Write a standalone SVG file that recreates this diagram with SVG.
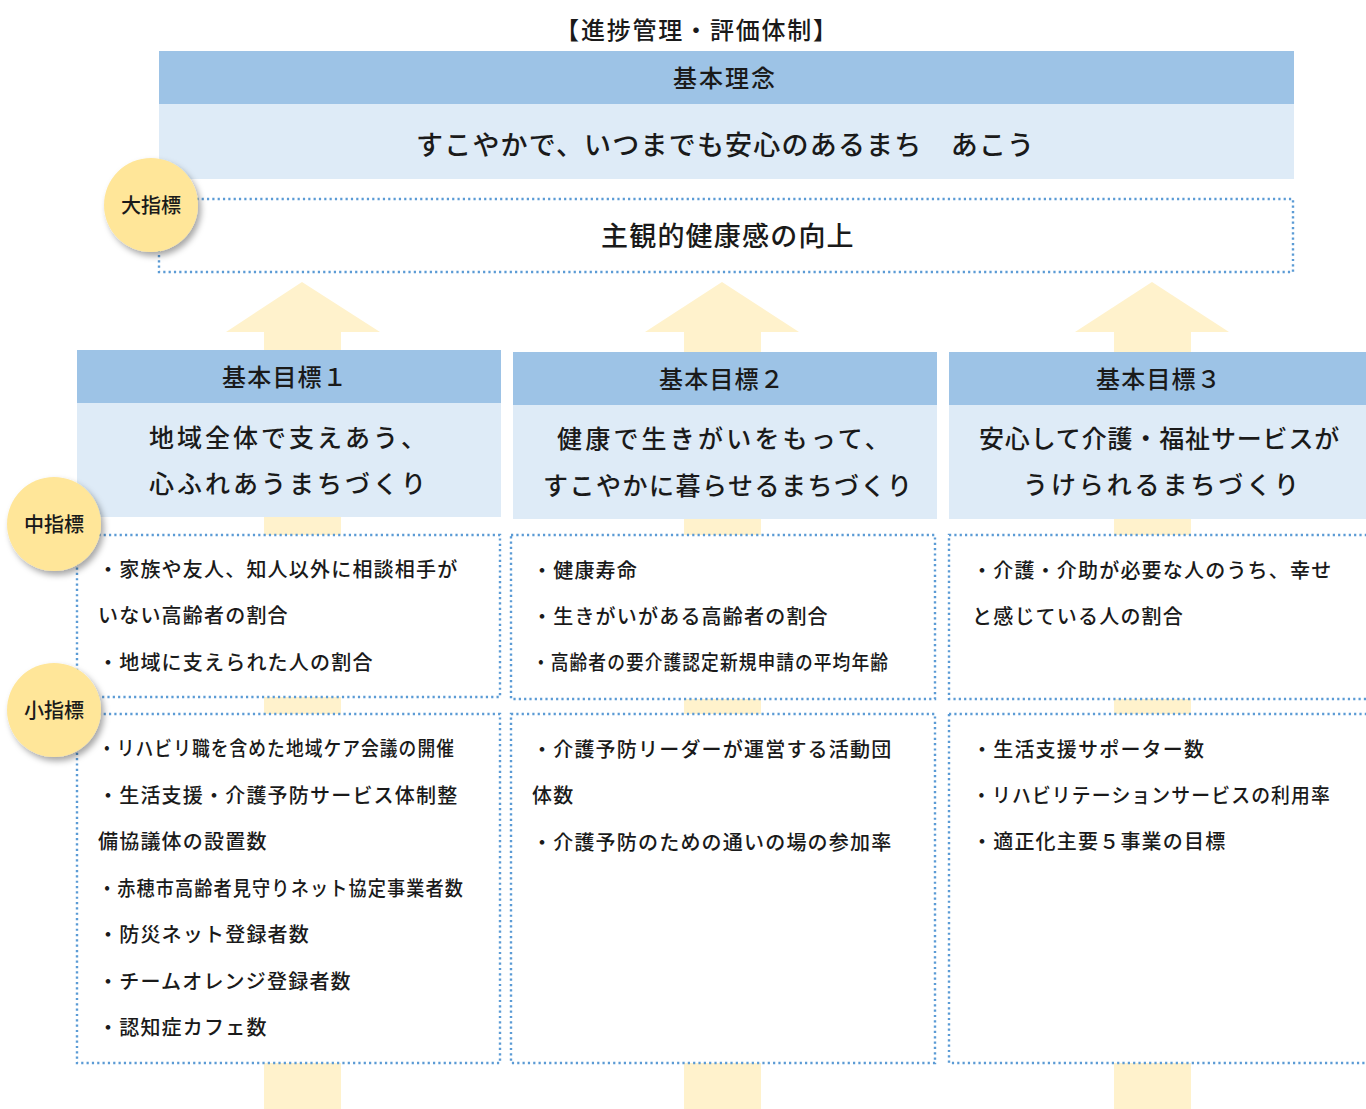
<svg xmlns="http://www.w3.org/2000/svg" width="1366" height="1109" viewBox="0 0 1366 1109">
<style>
text{font-family:"Noto Sans CJK JP","Noto Sans",sans-serif;fill:#1a1a1a;font-weight:500}
.hd{fill:#9dc3e6}
.lt{fill:#deebf7}
.dot{fill:#fff;stroke:#5b9bd5;stroke-width:2.4;stroke-dasharray:2.2 3.13}
.arr{fill:#fff2cc}
.circ{fill:#ffe699;filter:url(#sh)}
.t24{font-size:24px;letter-spacing:1.2px}
.t27{font-size:27px;letter-spacing:1.2px}
.t25{font-size:25px;letter-spacing:1.2px}
.b{font-size:20px;letter-spacing:1.2px}
.cl{font-size:20px;font-weight:500;text-anchor:middle}
</style>
<defs>
<filter id="sh" x="-30%" y="-30%" width="170%" height="170%">
<feDropShadow dx="3" dy="4" stdDeviation="3" flood-color="#000" flood-opacity="0.35"/>
</filter>
</defs>
<rect width="1366" height="1109" fill="#fff"/>
<g id="connectors">
<path class="arr" d="M264 1109V332H226L302 282L380 332H341V1109Z"/>
<path class="arr" d="M684 1109V332H645L722 282L799 332H761V1109Z"/>
<path class="arr" d="M1114 1109V332H1075L1152 282L1229 332H1191V1109Z"/>
</g>
<g id="title">
<text class="t24" x="697" y="39" text-anchor="middle" style="letter-spacing:1.8px">【進捗管理・評価体制】</text>
</g>
<g id="kihon-rinen">
<rect class="hd" x="159" y="51" width="1135" height="53"/>
<rect class="lt" x="159" y="104" width="1135" height="75"/>
<text class="t24" x="673" y="87" style="letter-spacing:2px">基本理念</text>
<text class="t27" x="416" y="155">すこやかで、いつまでも安心のあるまち　あこう</text>
</g>
<g id="dai-shihyo">
<rect class="dot" x="159" y="199" width="1134" height="73"/>
<text class="t27" x="601" y="246">主観的健康感の向上</text>
</g>
<g id="goal1">
<rect class="hd" x="77" y="350" width="424" height="53"/>
<rect class="lt" x="77" y="403" width="424" height="114"/>
<text class="t24" x="222" y="386">基本目標１</text>
<text class="t25" x="149" y="447" style="letter-spacing:3px">地域全体で支えあう、</text>
<text class="t25" x="149" y="493" style="letter-spacing:3px">心ふれあうまちづくり</text>
</g>
<g id="goal2">
<rect class="hd" x="513" y="352" width="424" height="53"/>
<rect class="lt" x="513" y="405" width="424" height="114"/>
<text class="t24" x="659" y="388">基本目標２</text>
<text class="t25" x="557" y="448" style="letter-spacing:3.2px">健康で生きがいをもって、</text>
<text class="t25" x="543" y="495" style="letter-spacing:1.5px">すこやかに暮らせるまちづくり</text>
</g>
<g id="goal3">
<rect class="hd" x="949" y="352" width="420" height="53"/>
<rect class="lt" x="949" y="405" width="420" height="114"/>
<text class="t24" x="1096" y="388">基本目標３</text>
<text class="t25" x="979" y="448" style="letter-spacing:0.85px">安心して介護・福祉サービスが</text>
<text class="t25" x="1023" y="494" style="letter-spacing:2.9px">うけられるまちづくり</text>
</g>
<g id="mid1">
<rect class="dot" x="77" y="535" width="423" height="162"/>
<text class="b" x="98" y="577">・家族や友人、知人以外に相談相手が</text>
<text class="b" x="98" y="623">いない高齢者の割合</text>
<text class="b" x="98" y="670">・地域に支えられた人の割合</text>
</g>
<g id="mid2">
<rect class="dot" x="511" y="535" width="424" height="164"/>
<text class="b" x="532" y="578">・健康寿命</text>
<text class="b" x="532" y="624">・生きがいがある高齢者の割合</text>
<text class="b" x="532" y="670" textLength="357" lengthAdjust="spacingAndGlyphs">・高齢者の要介護認定新規申請の平均年齢</text>
</g>
<g id="mid3">
<rect class="dot" x="949" y="535" width="425" height="164"/>
<text class="b" x="972" y="578">・介護・介助が必要な人のうち、幸せ</text>
<text class="b" x="972" y="624">と感じている人の割合</text>
</g>
<g id="small1">
<rect class="dot" x="77" y="714" width="423" height="349"/>
<text class="b" x="98" y="756" textLength="357" lengthAdjust="spacingAndGlyphs">・リハビリ職を含めた地域ケア会議の開催</text>
<text class="b" x="98" y="803">・生活支援・介護予防サービス体制整</text>
<text class="b" x="98" y="849">備協議体の設置数</text>
<text class="b" x="98" y="896" textLength="366" lengthAdjust="spacingAndGlyphs">・赤穂市高齢者見守りネット協定事業者数</text>
<text class="b" x="98" y="942">・防災ネット登録者数</text>
<text class="b" x="98" y="989">・チームオレンジ登録者数</text>
<text class="b" x="98" y="1035">・認知症カフェ数</text>
</g>
<g id="small2">
<rect class="dot" x="511" y="714" width="424" height="349"/>
<text class="b" x="532" y="757">・介護予防リーダーが運営する活動団</text>
<text class="b" x="532" y="803">体数</text>
<text class="b" x="532" y="850">・介護予防のための通いの場の参加率</text>
</g>
<g id="small3">
<rect class="dot" x="949" y="714" width="425" height="349"/>
<text class="b" x="972" y="757">・生活支援サポーター数</text>
<text class="b" x="972" y="803" textLength="359" lengthAdjust="spacingAndGlyphs">・リハビリテーションサービスの利用率</text>
<text class="b" x="972" y="849">・適正化主要５事業の目標</text>
</g>
<g id="label-dai">
<circle class="circ" cx="151" cy="205" r="47"/>
<text class="cl" x="151" y="213">大指標</text>
</g>
<g id="label-chu">
<circle class="circ" cx="54" cy="524" r="47"/>
<text class="cl" x="54" y="532">中指標</text>
</g>
<g id="label-sho">
<circle class="circ" cx="54" cy="710" r="47"/>
<text class="cl" x="54" y="718">小指標</text>
</g>
</svg>
